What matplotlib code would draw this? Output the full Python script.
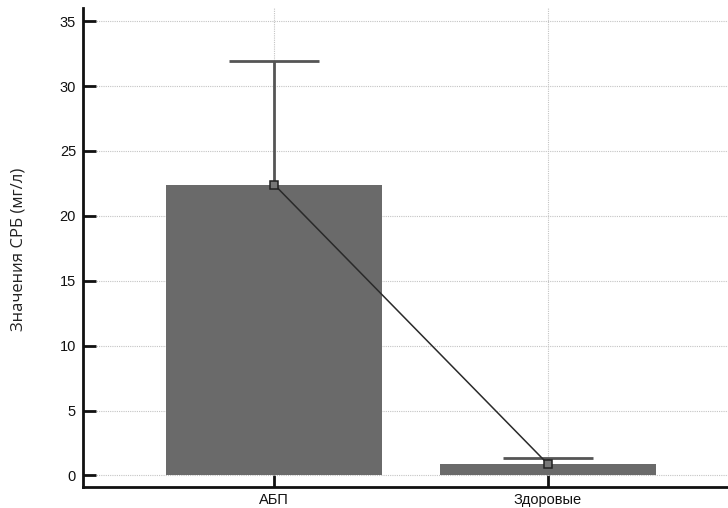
import matplotlib
matplotlib.use("Agg")
import matplotlib.pyplot as plt

groups = ["АБП", "Здоровые"]
means = [22.4, 0.9]
err_up = [9.5, 0.45]
y_ticks = [0, 5, 10, 15, 20, 25, 30, 35]
ylabel = "Значения СРБ (мг/л)"

plt.rcParams['font.family'] = ['Liberation Sans', 'DejaVu Sans']

fig = plt.figure(figsize=(7.28, 5.08), dpi=100)
ax = fig.add_axes([0.114, 0.041, 0.886, 0.943])

x = list(range(len(groups)))
tops = [m + e for m, e in zip(means, err_up)]
ax.bar(x, means, width=0.79, color="#6a6a6a", zorder=2)
# upper error only: stem + cap
ax.vlines(x, means, tops, color="#555555", lw=2, zorder=3)
ax.hlines(tops, [i - 0.165 for i in x], [i + 0.165 for i in x],
          color="#555555", lw=2, zorder=3)
ax.plot(x, means, color="#2a2a2a", lw=1.1, marker="s", markersize=6,
        markerfacecolor="#777777", markeredgecolor="#222222",
        markeredgewidth=1.1, zorder=4)

ax.set_xlim(-0.70, 1.66)
ax.set_ylim(-0.9, 36)
ax.set_yticks(y_ticks)
ax.set_xticks(x)
ax.set_xticklabels(groups)

ax.grid(True, color="#c4c4c4", linestyle=(0, (1, 1)), lw=0.8, zorder=0)
ax.set_axisbelow(True)

for s in ["top", "right"]:
    ax.spines[s].set_visible(False)
for s in ["left", "bottom"]:
    ax.spines[s].set_linewidth(2)
    ax.spines[s].set_color("#111111")

ax.tick_params(axis="both", direction="in", length=9, width=2,
               labelsize=10.5, colors="#111111")
ax.tick_params(axis="y", pad=5)
ax.tick_params(axis="x", pad=4)

fig.text(0.025, 0.51, ylabel, rotation=90, ha="center", va="center",
         fontsize=12, family=["Open Sans", "DejaVu Sans"], color="#222222")

fig.savefig("out.png", dpi=100)
